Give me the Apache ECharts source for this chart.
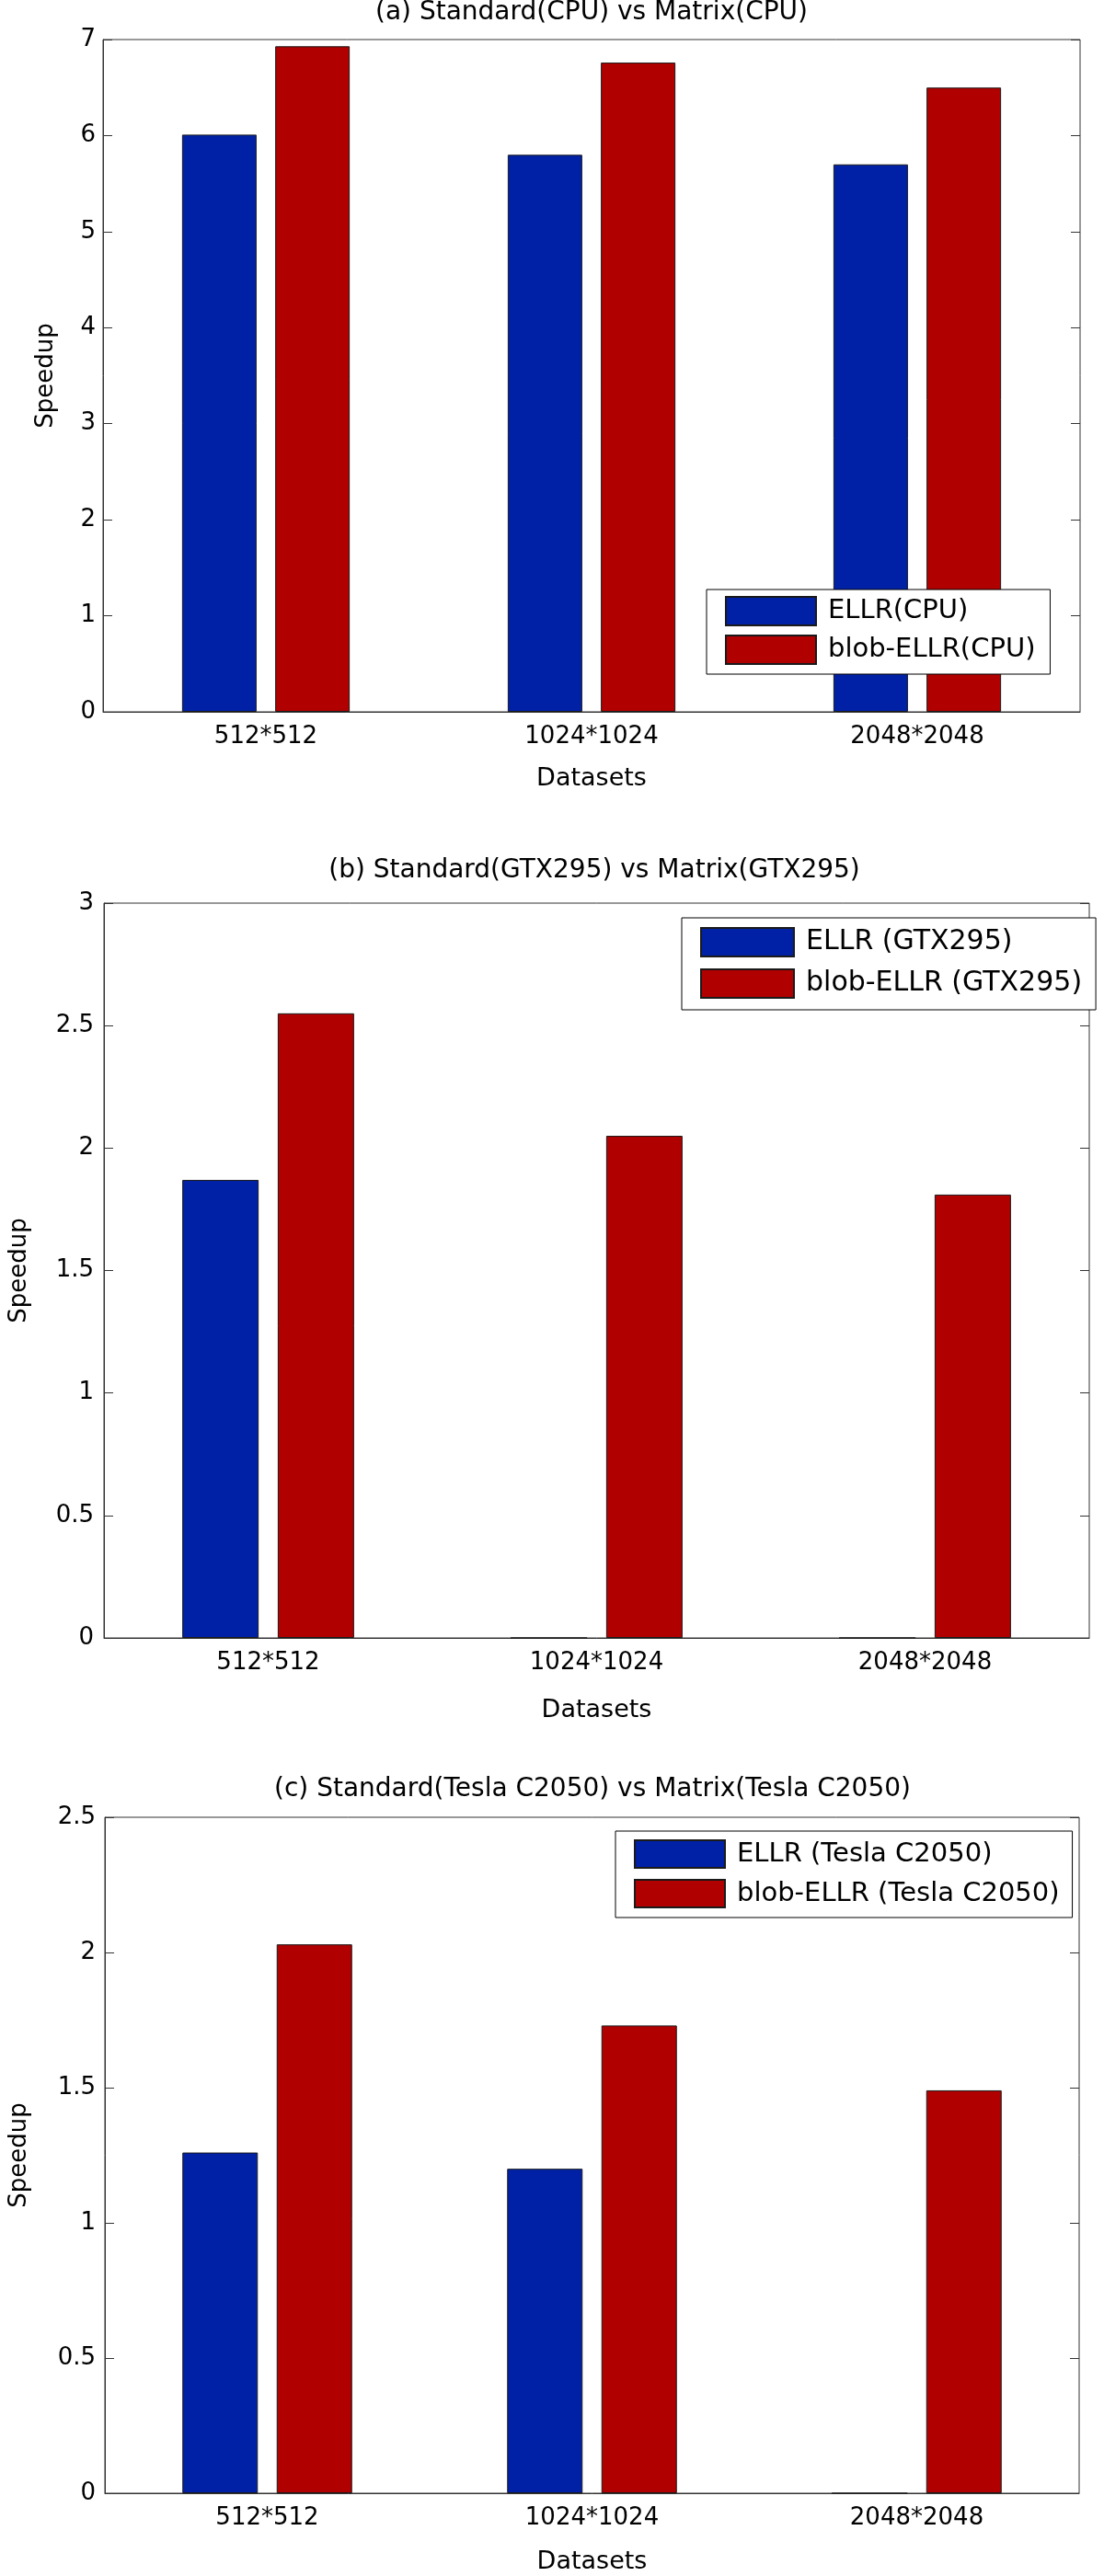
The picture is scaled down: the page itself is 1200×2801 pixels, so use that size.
<!DOCTYPE html>
<html>
<head>
<meta charset="utf-8">
<script src="https://cdn.jsdelivr.net/npm/echarts@6/dist/echarts.min.js"></script>
<style>
html,body{margin:0;padding:0;background:#fff;}
#c{width:1200px;height:2801px;}
</style>
</head>
<body>
<div id="c"></div>
<script>
const categories = ['512*512', '1024*1024', '2048*2048'];

const titleA = '(a) Standard(CPU) vs Matrix(CPU)';
const titleB = '(b) Standard(GTX295) vs Matrix(GTX295)';
const titleC = '(c) Standard(Tesla C2050) vs Matrix(Tesla C2050)';

const namesA = ['ELLR(CPU)', 'blob-ELLR(CPU)'];
const namesB = ['ELLR (GTX295)', 'blob-ELLR (GTX295)'];
const namesC = ['ELLR (Tesla C2050)', 'blob-ELLR (Tesla C2050)'];

const ellrA = [6.01, 5.80, 5.70];
const blobA = [6.93, 6.76, 6.50];
const ellrB = [1.87, 0, 0];
const blobB = [2.55, 2.05, 1.81];
const ellrC = [1.26, 1.20, 0];
const blobC = [2.03, 1.73, 1.49];

const yMaxA = 7, yStepA = 1;
const yMaxB = 3, yStepB = 0.5;
const yMaxC = 2.5, yStepC = 0.5;

const FONT = 'DejaVu Sans';
const BLUE = '#0021a5';
const RED = '#b00000';
const AX = '#333';

const panels = [
  {title: titleA, names: namesA, ellr: ellrA, blob: blobA, yMax: yMaxA, yStep: yStepA,
   grid: {left: 112, right: 26, top: 43, height: 731},
   titleTop: -1, titleX: 643, barW: 81, yLabMargin: 8, yNameGap: 49, xNameGap: 59, xLabMargin: 13,
   legend: {left: 768, top: 641, padding: [7, 16, 10, 20], itemWidth: 98, itemHeight: 31, itemGap: 9, fontSize: 29}},
  {title: titleB, names: namesB, ellr: ellrB, blob: blobB, yMax: yMaxB, yStep: yStepB,
   grid: {left: 103, right: 16, top: 982, height: 799},
   titleTop: 932, titleX: 646, barW: 83, yLabMargin: 11, yNameGap: 79, xNameGap: 65, xLabMargin: 13,
   legend: {left: 741, top: 998, padding: [10, 15, 12, 20], itemWidth: 101, itemHeight: 31, itemGap: 12, fontSize: 30}},
  {title: titleC, names: namesC, ellr: ellrC, blob: blobC, yMax: yMaxC, yStep: yStepC,
   grid: {left: 111, right: 27, top: 1976, height: 739},
   titleTop: 1931, titleX: 644, barW: 82, yLabMargin: 10, yNameGap: 80, xNameGap: 61, xLabMargin: 13,
   legend: {left: 669, top: 1991, padding: [9, 14, 10, 20], itemWidth: 98, itemHeight: 30, itemGap: 11, fontSize: 29}}
];

const option = {
  backgroundColor: '#fff',
  animation: false,
  title: [], grid: [], xAxis: [], yAxis: [], legend: [], series: []
};

panels.forEach((p, i) => {
  option.title.push({
    text: p.title, left: p.titleX, top: p.titleTop, textAlign: 'center',
    padding: 0,
    textStyle: {fontFamily: FONT, fontSize: 28, fontWeight: 'normal', color: '#000', lineHeight: 30}
  });
  option.grid.push(Object.assign({show: true, borderColor: AX, borderWidth: 1, backgroundColor: '#fff'}, p.grid));
  option.xAxis.push({
    type: 'category', gridIndex: i, data: categories,
    axisLine: {show: true, lineStyle: {color: AX, width: 1}},
    axisTick: {show: false},
    axisLabel: {fontFamily: FONT, fontSize: 26, color: '#000', margin: p.xLabMargin, lineHeight: 28},
    splitLine: {show: false},
    name: 'Datasets', nameLocation: 'middle', nameGap: p.xNameGap,
    nameTextStyle: {fontFamily: FONT, fontSize: 27, color: '#000', lineHeight: 28}
  });
  option.yAxis.push({
    type: 'value', gridIndex: i, min: 0, max: p.yMax, interval: p.yStep, position: 'left',
    axisLine: {show: true, lineStyle: {color: AX, width: 1}},
    axisTick: {show: true, inside: true, length: 10, lineStyle: {color: AX}},
    axisLabel: {fontFamily: FONT, fontSize: 26, color: '#000', margin: p.yLabMargin},
    splitLine: {show: false},
    name: 'Speedup', nameLocation: 'middle', nameGap: p.yNameGap,
    nameTextStyle: {fontFamily: FONT, fontSize: 26, color: '#000'}
  });
  option.yAxis.push({
    type: 'value', gridIndex: i, min: 0, max: p.yMax, interval: p.yStep, position: 'right',
    axisLine: {show: false},
    axisTick: {show: true, inside: true, length: 10, lineStyle: {color: AX}},
    axisLabel: {show: false},
    splitLine: {show: false}
  });
  option.legend.push({
    orient: 'vertical', left: p.legend.left, top: p.legend.top,
    padding: p.legend.padding, itemWidth: p.legend.itemWidth, itemHeight: p.legend.itemHeight,
    itemGap: p.legend.itemGap, backgroundColor: '#fff', borderColor: '#000', borderWidth: 1,
    borderRadius: 0, icon: 'rect', data: p.names, selectedMode: false,
    textStyle: {fontFamily: FONT, fontSize: p.legend.fontSize, color: '#000', padding: [0, 0, 0, 8], lineHeight: 32}
  });
  option.series.push({
    type: 'bar', name: p.names[0], xAxisIndex: i, yAxisIndex: i * 2, data: p.ellr,
    barWidth: p.barW, barGap: '25%',
    itemStyle: {color: BLUE, borderColor: '#1a1a1a', borderWidth: 1}
  });
  option.series.push({
    type: 'bar', name: p.names[1], xAxisIndex: i, yAxisIndex: i * 2, data: p.blob,
    barWidth: p.barW, barGap: '25%',
    itemStyle: {color: RED, borderColor: '#1a1a1a', borderWidth: 1}
  });
});

const chart = echarts.init(document.getElementById('c'), null, {renderer: 'canvas'});
chart.setOption(option);
</script>
</body>
</html>
